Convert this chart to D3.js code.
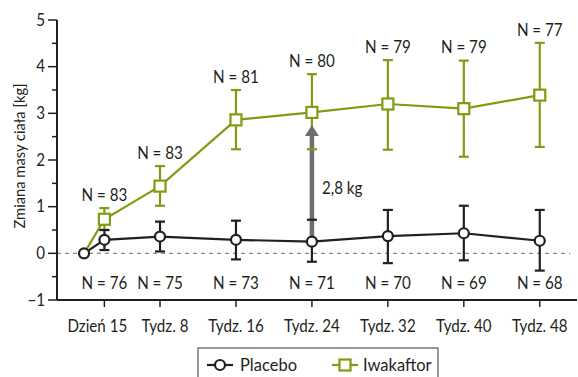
<!DOCTYPE html>
<html>
<head>
<meta charset="utf-8">
<script src="https://cdn.jsdelivr.net/npm/d3@7"></script>
<style>
  html, body { margin: 0; padding: 0; background: #fff; }
  svg { display: block; font-family: Lato, "Noto Sans", sans-serif; }
</style>
</head>
<body>
<svg id="chart" width="578" height="377"></svg>
<script>
// Time points in weeks (day 0 baseline, day 15, then weeks 8..48)
const weeks = [0, 15 / 7, 8, 16, 24, 32, 40, 48];
const tickWeeks = [15 / 7, 8, 16, 24, 32, 40, 48];
const tickLabels = ["Dzień 15", "Tydz. 8", "Tydz. 16", "Tydz. 24", "Tydz. 32", "Tydz. 40", "Tydz. 48"];

// Placebo: mean change in body mass [kg] with 95% CI
const placeboMean = [0, 0.29, 0.36, 0.29, 0.25, 0.37, 0.43, 0.27];
const placeboLow  = [null, 0.07, 0.04, -0.13, -0.18, -0.21, -0.15, -0.37];
const placeboHigh = [null, 0.50, 0.68, 0.70, 0.72, 0.93, 1.02, 0.93];
const placeboN    = [null, 76, 75, 73, 71, 70, 69, 68];

// Iwakaftor: mean change in body mass [kg] with 95% CI
const iwaMean = [0, 0.73, 1.44, 2.86, 3.02, 3.20, 3.10, 3.39];
const iwaLow  = [null, 0.50, 1.02, 2.23, 2.23, 2.22, 2.07, 2.28];
const iwaHigh = [null, 0.97, 1.87, 3.50, 3.84, 4.14, 4.13, 4.51];
const iwaN    = [null, 83, 83, 81, 80, 79, 79, 77];

// Treatment difference at week 24
const diffWeek = 24;
const diffValue = 2.8;
const diffLabel = "2,8 kg";

const yTicks = [-1, 0, 1, 2, 3, 4, 5];

const GREEN = "#7f9c12";
const BLACK = "#231f20";
const GREY = "#6d6e71";
const FONT = 16.5;
const SX = 0.92;                       // slight horizontal condensing of labels
const tickNudge = [-7, 5, 0, 0, 0, 0, 0]; // keeps the first two tick labels apart

const svg = d3.select("#chart");

const x = d3.scaleLinear().domain([-2.85, 51.5]).range([57, 573]);
const y = d3.scaleLinear().domain([-1, 5]).range([300, 20]);

// Text helper: places a label at (px, py) with optional horizontal condensing
function label(parent, px, py, str, anchor = "middle", sx = SX, size = FONT) {
  return parent.append("text")
    .attr("transform", `translate(${px},${py}) scale(${sx},1)`)
    .attr("dy", "0.35em")
    .attr("text-anchor", anchor)
    .attr("font-size", size)
    .attr("fill", BLACK)
    .text(str);
}

// Zero reference line
svg.append("line")
  .attr("x1", x(-2.85)).attr("x2", x(51.2))
  .attr("y1", y(0)).attr("y2", y(0))
  .attr("stroke", "#8a8a8a").attr("stroke-width", 1.2)
  .attr("stroke-dasharray", "4,4");

// Y axis with major and minor ticks
const yAxis = svg.append("g");
const ax = x(-2.85);
yAxis.append("line")
  .attr("x1", ax).attr("x2", ax).attr("y1", y(5)).attr("y2", y(-1))
  .attr("stroke", BLACK).attr("stroke-width", 2);
yAxis.selectAll("line.major").data(yTicks).join("line")
  .attr("class", "major")
  .attr("x1", ax - 9).attr("x2", ax)
  .attr("y1", d => y(d)).attr("y2", d => y(d))
  .attr("stroke", BLACK).attr("stroke-width", 1.5);
yAxis.selectAll("line.minor").data(d3.range(-0.5, 5, 1)).join("line")
  .attr("class", "minor")
  .attr("x1", ax - 5).attr("x2", ax)
  .attr("y1", d => y(d)).attr("y2", d => y(d))
  .attr("stroke", BLACK).attr("stroke-width", 1.5);
yTicks.forEach(d => label(yAxis, ax - 12, y(d), d < 0 ? "\u2212" + Math.abs(d) : String(d), "end"));

// Y axis title
svg.append("text")
  .attr("transform", `translate(19,156) rotate(-90) scale(${SX},1)`)
  .attr("dy", "0.35em")
  .attr("text-anchor", "middle")
  .attr("font-size", 16)
  .attr("fill", BLACK)
  .text("Zmiana masy ciała [kg]");

// X axis
const xAxis = svg.append("g");
xAxis.append("line")
  .attr("x1", ax).attr("x2", 577)
  .attr("y1", y(-1)).attr("y2", y(-1))
  .attr("stroke", BLACK).attr("stroke-width", 2);
xAxis.selectAll("line.tick").data(tickWeeks).join("line")
  .attr("class", "tick")
  .attr("x1", d => x(d)).attr("x2", d => x(d))
  .attr("y1", y(-1)).attr("y2", y(-1) + 7)
  .attr("stroke", BLACK).attr("stroke-width", 1.5);
tickWeeks.forEach((d, i) => label(xAxis, x(d) + tickNudge[i], y(-1) + 26, tickLabels[i]));

const line = d3.line().x(d => x(d.w)).y(d => y(d.v));
const pts = (means) => weeks.map((w, i) => ({ w, v: means[i] }));
const bars = (low, high) => weeks.map((w, i) => ({ w, lo: low[i], hi: high[i] })).filter(d => d.lo !== null);

// Series lines
svg.append("path").datum(pts(iwaMean)).attr("d", line)
  .attr("fill", "none").attr("stroke", GREEN).attr("stroke-width", 2.2);
svg.append("path").datum(pts(placeboMean)).attr("d", line)
  .attr("fill", "none").attr("stroke", BLACK).attr("stroke-width", 2.2);

// Error bar stems and caps
function stems(data, color) {
  svg.append("g").selectAll("line").data(data).join("line")
    .attr("x1", d => x(d.w)).attr("x2", d => x(d.w))
    .attr("y1", d => y(d.lo)).attr("y2", d => y(d.hi))
    .attr("stroke", color).attr("stroke-width", 2.2);
}
function caps(data, color) {
  const g = svg.append("g");
  ["lo", "hi"].forEach(k => {
    g.selectAll("line." + k).data(data).join("line")
      .attr("class", k)
      .attr("x1", d => x(d.w) - 5).attr("x2", d => x(d.w) + 5)
      .attr("y1", d => y(d[k])).attr("y2", d => y(d[k]))
      .attr("stroke", color).attr("stroke-width", 2.2);
  });
}
const iwaBars = bars(iwaLow, iwaHigh);
const plaBars = bars(placeboLow, placeboHigh);
stems(iwaBars, GREEN);
stems(plaBars, BLACK);

// Difference arrow at week 24
const di = weeks.indexOf(diffWeek);
const yFrom = y(placeboMean[di]);
const yTip = y(placeboMean[di] + diffValue) + 14;
const headH = 11, headW = 7;
svg.append("line")
  .attr("x1", x(diffWeek)).attr("x2", x(diffWeek))
  .attr("y1", yFrom).attr("y2", yTip + headH - 1)
  .attr("stroke", GREY).attr("stroke-width", 4.5);
svg.append("path")
  .attr("d", `M${x(diffWeek)},${yTip} L${x(diffWeek) + headW},${yTip + headH} L${x(diffWeek) - headW},${yTip + headH} Z`)
  .attr("fill", GREY);
label(svg, x(diffWeek) + 10, y(1.4), diffLabel, "start");

caps(iwaBars, GREEN);
caps(plaBars, BLACK);

// Markers
svg.append("g").selectAll("rect").data(pts(iwaMean).slice(1)).join("rect")
  .attr("x", d => x(d.w) - 5.5).attr("y", d => y(d.v) - 5.5)
  .attr("width", 11).attr("height", 11)
  .attr("fill", "#fff").attr("stroke", GREEN).attr("stroke-width", 2.2);
svg.append("g").selectAll("circle").data(pts(placeboMean)).join("circle")
  .attr("cx", d => x(d.w)).attr("cy", d => y(d.v)).attr("r", 5)
  .attr("fill", "#fff").attr("stroke", BLACK).attr("stroke-width", 2.2);

// Sample size labels
const nLabel = v => "N = " + v;
const nTop = svg.append("g");
weeks.forEach((w, i) => {
  if (iwaN[i] !== null) label(nTop, x(w), y(iwaHigh[i]) - 13, nLabel(iwaN[i]));
});
const nBottom = svg.append("g");
weeks.forEach((w, i) => {
  if (placeboN[i] !== null) label(nBottom, x(w), y(-1) - 17, nLabel(placeboN[i]));
});

// Legend
const legend = svg.append("g");
legend.append("rect")
  .attr("x", 198).attr("y", 348).attr("width", 240).attr("height", 34)
  .attr("fill", "#fff").attr("stroke", "#555").attr("stroke-width", 1.2);
legend.append("line").attr("x1", 207).attr("x2", 233).attr("y1", 365).attr("y2", 365)
  .attr("stroke", BLACK).attr("stroke-width", 2.2);
legend.append("circle").attr("cx", 220).attr("cy", 365).attr("r", 5)
  .attr("fill", "#fff").attr("stroke", BLACK).attr("stroke-width", 2.2);
label(legend, 240, 365, "Placebo", "start", 1);
legend.append("line").attr("x1", 332).attr("x2", 358).attr("y1", 365).attr("y2", 365)
  .attr("stroke", GREEN).attr("stroke-width", 2.2);
legend.append("rect").attr("x", 339.5).attr("y", 359.5).attr("width", 11).attr("height", 11)
  .attr("fill", "#fff").attr("stroke", GREEN).attr("stroke-width", 2.2);
label(legend, 363, 365, "Iwakaftor", "start", 1);
</script>
</body>
</html>
